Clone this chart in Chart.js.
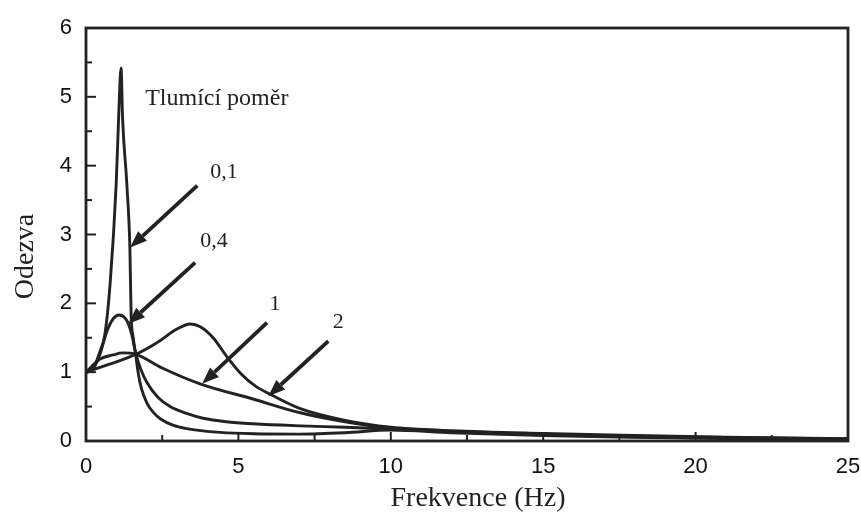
<!DOCTYPE html>
<html>
<head>
<meta charset="utf-8">
<script src="https://cdn.jsdelivr.net/npm/chart.js@4/dist/chart.umd.min.js"></script>
<style>
  html, body { margin: 0; padding: 0; background: #ffffff; }
  #wrap { width: 861px; height: 516px; }
</style>
</head>
<body>
<div id="wrap"><canvas id="c" width="861" height="516"></canvas></div>
<script>
// ---- Data ----
const xTicks = [0, 5, 10, 15, 20, 25];
const yTicks = [0, 1, 2, 3, 4, 5, 6];

// damping ratio 0,1
const freqZ01 = [0, 0.2, 0.46, 0.62, 0.79, 0.99, 1.07, 1.15, 1.2, 1.34, 1.44, 1.48, 1.55, 1.64, 1.72, 1.82, 2.0, 2.2, 2.45, 2.85, 3.3, 4.4, 5.5, 7.0, 8.5, 10, 12, 15, 18, 21, 25];
const respZ01 = [1.0, 1.03, 1.3, 1.55, 2.28, 3.73, 4.69, 5.42, 4.69, 3.73, 2.8, 1.85, 1.5, 1.22, 0.97, 0.76, 0.55, 0.42, 0.32, 0.23, 0.18, 0.125, 0.105, 0.10, 0.12, 0.16, 0.12, 0.08, 0.055, 0.035, 0.02];

// damping ratio 0,4
const freqZ04 = [0, 0.2, 0.45, 0.69, 0.9, 1.09, 1.25, 1.35, 1.5, 1.64, 1.8, 2.0, 2.35, 2.76, 3.3, 3.84, 4.6, 5.48, 7.03, 8.5, 10, 12, 15, 18, 21, 25];
const respZ04 = [1.0, 1.03, 1.25, 1.6, 1.78, 1.83, 1.8, 1.74, 1.55, 1.26, 1.04, 0.85, 0.64, 0.5, 0.4, 0.33, 0.28, 0.25, 0.22, 0.2, 0.175, 0.13, 0.09, 0.06, 0.04, 0.025];

// damping ratio 1
const freqZ1 = [0, 0.46, 0.89, 1.2, 1.64, 2.5, 3.74, 5.48, 7.03, 8.5, 10, 12, 15, 18, 21, 25];
const respZ1 = [1.0, 1.19, 1.25, 1.28, 1.26, 1.06, 0.83, 0.61, 0.41, 0.28, 0.19, 0.14, 0.1, 0.07, 0.05, 0.03];

// damping ratio 2
const freqZ2 = [0, 0.8, 1.64, 2.3, 3.0, 3.42, 3.75, 4.17, 4.63, 5.1, 5.55, 6.04, 7.03, 8.5, 10, 12, 15, 18, 21, 25];
const respZ2 = [1.0, 1.12, 1.26, 1.42, 1.63, 1.7, 1.66, 1.5, 1.22, 0.97, 0.8, 0.68, 0.47, 0.3, 0.2, 0.15, 0.11, 0.08, 0.055, 0.035];

const seriesNames = ['0,1', '0,4', '1', '2'];

// annotation texts (data coordinates)
const noteTexts = ['Tlumící poměr', '0,1', '0,4', '1', '2'];
const noteX = [1.94, 4.53, 4.2, 6.2, 8.28];
const noteY = [4.97, 3.91, 2.9, 1.99, 1.72];

// arrows: start -> tip (data coordinates)
const arrowFromX = [3.65, 3.58, 5.94, 7.95];
const arrowFromY = [3.71, 2.59, 1.72, 1.45];
const arrowToX = [1.445, 1.38, 3.81, 5.98];
const arrowToY = [2.81, 1.70, 0.83, 0.65];

// ---- Build chart ----
const INK = '#222222';
function pts(fx, fy) { return fx.map((x, i) => ({ x: x, y: fy[i] })); }

const datasets = [
  [freqZ01, respZ01], [freqZ04, respZ04], [freqZ1, respZ1], [freqZ2, respZ2]
].map((p, i) => ({
  label: seriesNames[i],
  data: pts(p[0], p[1]),
  borderColor: INK,
  borderWidth: 2.9,
  pointRadius: 0,
  fill: false,
  cubicInterpolationMode: 'monotone'
}));

const decorPlugin = {
  id: 'decor',
  afterDatasetsDraw(chart) {
    const ctx = chart.ctx;
    const xs = chart.scales.x, ys = chart.scales.y;
    const a = chart.chartArea;
    ctx.save();
    ctx.strokeStyle = INK;
    ctx.fillStyle = INK;
    // frame
    ctx.lineWidth = 2.8;
    ctx.strokeRect(a.left, a.top, a.right - a.left, a.bottom - a.top);
    // inward ticks
    ctx.lineWidth = 2;
    for (let v = 0; v <= 6.001; v += 0.5) {
      const y = ys.getPixelForValue(v);
      const len = Math.abs(v - Math.round(v)) < 1e-6 ? 10 : 6;
      ctx.beginPath(); ctx.moveTo(a.left, y); ctx.lineTo(a.left + len, y); ctx.stroke();
    }
    for (let v = 0; v <= 25.001; v += 2.5) {
      const x = xs.getPixelForValue(v);
      const len = Math.abs(v / 5 - Math.round(v / 5)) < 1e-6 ? 9 : 6;
      ctx.beginPath(); ctx.moveTo(x, a.bottom); ctx.lineTo(x, a.bottom - len); ctx.stroke();
    }
    // arrows
    for (let i = 0; i < arrowFromX.length; i++) {
      const x1 = xs.getPixelForValue(arrowFromX[i]), y1 = ys.getPixelForValue(arrowFromY[i]);
      const x2 = xs.getPixelForValue(arrowToX[i]), y2 = ys.getPixelForValue(arrowToY[i]);
      const ang = Math.atan2(y2 - y1, x2 - x1);
      const hl = 17, hw = 6.5;
      const bx = x2 - hl * Math.cos(ang), by = y2 - hl * Math.sin(ang);
      ctx.lineWidth = 3.8;
      ctx.beginPath(); ctx.moveTo(x1, y1); ctx.lineTo(bx, by); ctx.stroke();
      ctx.beginPath();
      ctx.moveTo(x2, y2);
      ctx.lineTo(bx + hw * Math.sin(ang), by - hw * Math.cos(ang));
      ctx.lineTo(bx - hw * Math.sin(ang), by + hw * Math.cos(ang));
      ctx.closePath(); ctx.fill();
    }
    // annotation texts
    ctx.textBaseline = 'middle';
    for (let i = 0; i < noteTexts.length; i++) {
      ctx.font = (i === 0 ? '24px' : '22px') + ' "Liberation Serif", "Times New Roman", serif';
      ctx.textAlign = i === 0 ? 'left' : 'center';
      ctx.fillText(noteTexts[i], xs.getPixelForValue(noteX[i]), ys.getPixelForValue(noteY[i]));
    }
    // y axis title
    ctx.save();
    ctx.translate(26, (a.top + a.bottom) / 2 + 22);
    ctx.rotate(-Math.PI / 2);
    ctx.textAlign = 'center';
    ctx.font = '28px "Liberation Serif", "Times New Roman", serif';
    ctx.fillText('Odezva', 0, 0);
    ctx.restore();
    // x axis title
    ctx.textAlign = 'center';
    ctx.font = '28px "Liberation Serif", "Times New Roman", serif';
    ctx.fillText('Frekvence (Hz)', (a.left + a.right) / 2 + 11, 499);
    ctx.restore();
  }
};

new Chart(document.getElementById('c'), {
  type: 'line',
  data: { datasets: datasets },
  options: {
    responsive: false,
    animation: false,
    devicePixelRatio: 1,
    layout: { padding: { left: 0, right: 0, top: 28, bottom: 0 } },
    plugins: { legend: { display: false }, tooltip: { enabled: false }, title: { display: false } },
    scales: {
      x: {
        type: 'linear', min: 0, max: 25,
        afterBuildTicks: (s) => { s.ticks = xTicks.map(v => ({ value: v })); },
        afterFit: (s) => { s.height = 75; s.paddingRight = 13; },
        grid: { display: false, drawTicks: false },
        border: { display: false },
        ticks: { color: '#111', padding: 13, maxRotation: 0, font: { family: '"Liberation Sans", Arial, sans-serif', size: 22 } }
      },
      y: {
        type: 'linear', min: 0, max: 6,
        afterBuildTicks: (s) => { s.ticks = yTicks.map(v => ({ value: v })); },
        afterFit: (s) => { s.width = 86; },
        grid: { display: false, drawTicks: false },
        border: { display: false },
        ticks: { color: '#111', padding: 14, font: { family: '"Liberation Sans", Arial, sans-serif', size: 22 } }
      }
    }
  },
  plugins: [decorPlugin]
});
</script>
</body>
</html>
